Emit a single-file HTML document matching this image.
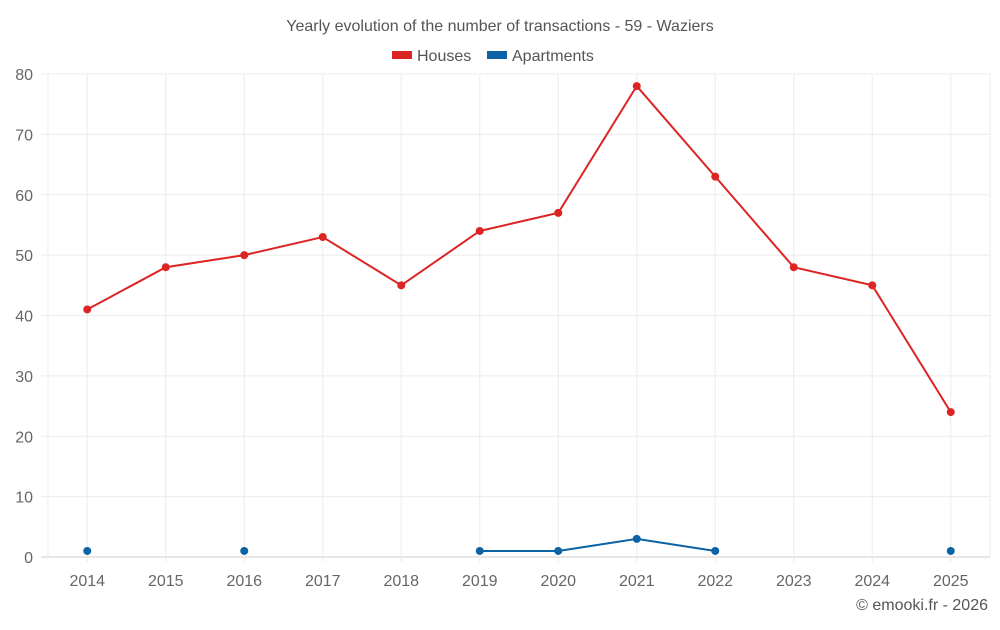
<!DOCTYPE html>
<html><head><meta charset="utf-8">
<style>
body{margin:0;background:#fff;font-family:"Liberation Sans",sans-serif;}
svg text{font-family:"Liberation Sans",sans-serif;}
</style></head>
<body>
<svg id="chart" width="1000" height="625" xmlns="http://www.w3.org/2000/svg">
<text x="500" y="31" text-anchor="middle" font-size="16" fill="#555">Yearly evolution of the number of transactions - 59 - Waziers</text>
<g>
<rect x="392" y="51" width="20" height="8" fill="#dd2424"/>
<text x="417" y="61" font-size="16" fill="#555">Houses</text>
<rect x="487" y="51" width="20" height="8" fill="#0b62a4"/>
<text x="512" y="61" font-size="16" fill="#555">Apartments</text>
</g>
<g id="grid"></g><g id="axes"></g><g id="series"></g>
<text x="988" y="610" text-anchor="end" font-size="16" fill="#555">© emooki.fr - 2026</text>
</svg>
<script>
const years = [2014,2015,2016,2017,2018,2019,2020,2021,2022,2023,2024,2025];
const houses = [41,48,50,53,45,54,57,78,63,48,45,24];
const apartments = [1,null,1,null,null,1,1,3,1,null,null,1];
const yTicks = [0,10,20,30,40,50,60,70,80];

const NS="http://www.w3.org/2000/svg";
const pLeft=48,pRight=990,pTop=74,pBottom=557,yMax=80;
const band=(pRight-pLeft)/years.length;
const xs=i=>pLeft+band*(i+0.5);
const ys=v=>pBottom-(v/yMax)*(pBottom-pTop);
function mk(tag,attrs,parent){const e=document.createElementNS(NS,tag);for(const k in attrs)e.setAttribute(k,attrs[k]);parent.appendChild(e);return e;}
const grid=document.getElementById('grid'),axes=document.getElementById('axes'),series=document.getElementById('series');

yTicks.forEach(t=>{
  const l=mk('line',{x1:41,x2:pRight,y1:ys(t),y2:ys(t),stroke:t===0?'#ccc':'#ebebeb','stroke-width':1},grid);
  
  
  const tx=mk('text',{x:33,y:ys(t)+6,'text-anchor':'end','font-size':16,fill:'#666'},axes);
  tx.textContent=t;
  
  
});
[pLeft,pRight].forEach(x=>{
  const l=mk('line',{x1:x,x2:x,y1:pTop,y2:pBottom,stroke:'#ebebeb'},grid);
  
  
});
years.forEach((y,i)=>{
  const l=mk('line',{x1:xs(i),x2:xs(i),y1:pTop,y2:pBottom+5,stroke:'#ebebeb'},grid);
  
  
  const tx=mk('text',{x:xs(i),y:586,'text-anchor':'middle','font-size':16,fill:'#666'},axes);
  tx.textContent=y;
  
  
});

function drawSeries(vals,color,name){
  let seg=[];
  const segs=[];
  vals.forEach((v,i)=>{ if(v===null){ if(seg.length)segs.push(seg); seg=[]; } else seg.push([xs(i),ys(v)]); });
  if(seg.length)segs.push(seg);
  segs.forEach(s=>{ if(s.length>1){
    const p=mk('polyline',{points:s.map(p=>p.join(',')).join(' '),fill:'none',stroke:color,'stroke-width':2},series);
    
    
  }});
  vals.forEach((v,i)=>{ if(v===null)return;
    const c=mk('circle',{cx:xs(i),cy:ys(v),r:4,fill:color},series);
    
    
  });
}
drawSeries(houses,'#dd2424','houses');
drawSeries(apartments,'#0b62a4','apartments');
</script>
</body></html>
